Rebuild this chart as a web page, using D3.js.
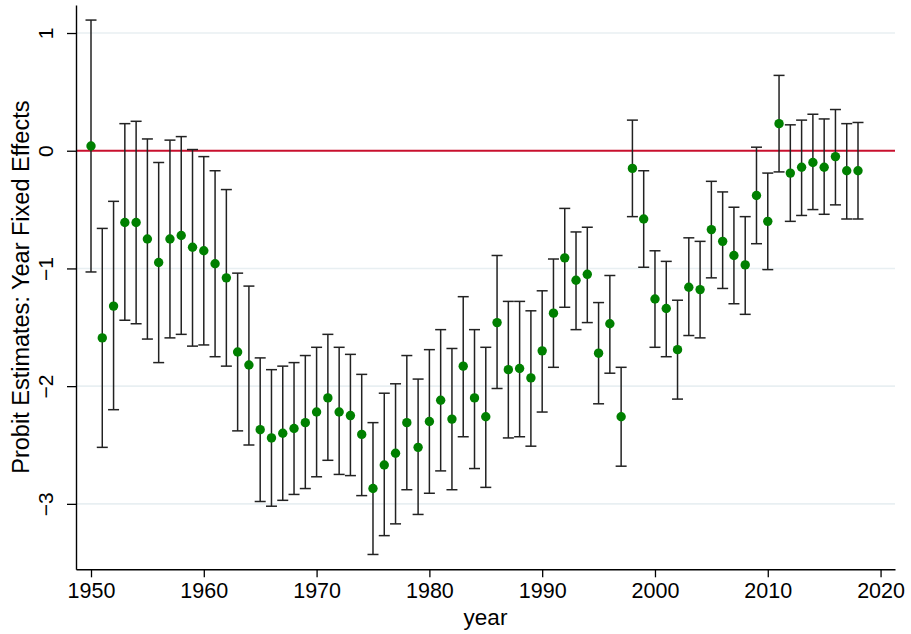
<!DOCTYPE html>
<html><head><meta charset="utf-8">
<script src="https://cdn.jsdelivr.net/npm/d3@7"></script>
<style>html,body{margin:0;padding:0;background:#fff}svg{display:block}text{font-family:"Liberation Sans",Arial,Helvetica,sans-serif;fill:#000}</style>
</head><body>
<svg id="chart" width="911" height="634"></svg>
<script>
const years = [1950,1951,1952,1953,1954,1955,1956,1957,1958,1959,1960,1961,1962,1963,1964,1965,1966,1967,1968,1969,1970,1971,1972,1973,1974,1975,1976,1977,1978,1979,1980,1981,1982,1983,1984,1985,1986,1987,1988,1989,1990,1991,1992,1993,1994,1995,1996,1997,1998,1999,2000,2001,2002,2003,2004,2005,2006,2007,2008,2009,2010,2011,2012,2013,2014,2015,2016,2017,2018];
const estimate = [0.04,-1.59,-1.32,-0.61,-0.61,-0.75,-0.95,-0.75,-0.72,-0.82,-0.85,-0.96,-1.08,-1.71,-1.82,-2.37,-2.44,-2.40,-2.36,-2.31,-2.22,-2.10,-2.22,-2.25,-2.41,-2.87,-2.67,-2.57,-2.31,-2.52,-2.30,-2.12,-2.28,-1.83,-2.10,-2.26,-1.46,-1.86,-1.85,-1.93,-1.70,-1.38,-0.91,-1.10,-1.05,-1.72,-1.47,-2.26,-0.15,-0.58,-1.26,-1.34,-1.69,-1.16,-1.18,-0.67,-0.77,-0.89,-0.97,-0.38,-0.60,0.23,-0.19,-0.14,-0.10,-0.14,-0.05,-0.17,-0.17];
const upper = [1.11,-0.66,-0.43,0.23,0.25,0.10,-0.10,0.09,0.12,0.01,-0.05,-0.17,-0.33,-1.04,-1.15,-1.76,-1.86,-1.83,-1.80,-1.74,-1.67,-1.56,-1.67,-1.73,-1.90,-2.31,-2.06,-1.98,-1.74,-1.94,-1.69,-1.52,-1.68,-1.24,-1.52,-1.67,-0.89,-1.28,-1.28,-1.36,-1.19,-0.92,-0.49,-0.69,-0.65,-1.29,-1.06,-1.84,0.26,-0.17,-0.85,-0.94,-1.27,-0.74,-0.77,-0.26,-0.35,-0.48,-0.56,0.03,-0.19,0.64,0.22,0.26,0.31,0.27,0.35,0.23,0.24];
const lower = [-1.03,-2.52,-2.20,-1.44,-1.47,-1.60,-1.80,-1.59,-1.56,-1.66,-1.65,-1.75,-1.83,-2.38,-2.50,-2.98,-3.02,-2.97,-2.92,-2.87,-2.77,-2.63,-2.75,-2.76,-2.93,-3.43,-3.27,-3.17,-2.88,-3.09,-2.91,-2.72,-2.88,-2.43,-2.70,-2.86,-2.02,-2.44,-2.43,-2.51,-2.22,-1.84,-1.33,-1.52,-1.46,-2.15,-1.89,-2.68,-0.56,-0.99,-1.67,-1.75,-2.11,-1.57,-1.59,-1.08,-1.17,-1.30,-1.39,-0.79,-1.01,-0.18,-0.60,-0.55,-0.50,-0.54,-0.46,-0.58,-0.58];
const xTicks = [1950,1960,1970,1980,1990,2000,2010,2020];
const yTicks = [-3,-2,-1,0,1];
const gridValues = [-3,-2,-1,1];
const xTitle = "year";
const yTitle = "Probit Estimates: Year Fixed Effects";

const data = years.map((yr,i)=>({year:yr, est:estimate[i], hi:upper[i], lo:lower[i]}));

const svg = d3.select("#chart");
const pLeft = 76, pRight = 895, pTop = 5, pBottom = 569.3;
const x = d3.scaleLinear().domain([1948.67, 2021.28]).range([pLeft, pRight]);
const y = d3.scaleLinear().domain([-3.556, 1.238]).range([pBottom, pTop]);

// gridlines
svg.append("g").selectAll("line").data(gridValues).join("line")
  .attr("x1", pLeft).attr("x2", pRight)
  .attr("y1", d=>y(d)).attr("y2", d=>y(d))
  .attr("stroke", "#e8eff2").attr("stroke-width", 1.6);

// zero reference line
svg.append("line").attr("x1", pLeft).attr("x2", pRight)
  .attr("y1", y(0)).attr("y2", y(0))
  .attr("stroke", "#c8102e").attr("stroke-width", 2);

// error bars
const cap = 5.5;
const eb = svg.append("g").attr("stroke", "#222").attr("stroke-width", 1.5).attr("fill", "none");
eb.selectAll("line.v").data(data).join("line").attr("class","v")
  .attr("x1", d=>x(d.year)).attr("x2", d=>x(d.year))
  .attr("y1", d=>y(d.hi)).attr("y2", d=>y(d.lo));
eb.selectAll("line.t").data(data).join("line").attr("class","t")
  .attr("x1", d=>x(d.year)-cap).attr("x2", d=>x(d.year)+cap)
  .attr("y1", d=>y(d.hi)).attr("y2", d=>y(d.hi));
eb.selectAll("line.b").data(data).join("line").attr("class","b")
  .attr("x1", d=>x(d.year)-cap).attr("x2", d=>x(d.year)+cap)
  .attr("y1", d=>y(d.lo)).attr("y2", d=>y(d.lo));

// points
svg.append("g").selectAll("circle").data(data).join("circle")
  .attr("cx", d=>x(d.year)).attr("cy", d=>y(d.est)).attr("r", 4.7)
  .attr("fill", "#008000");

// x axis
const xAxis = d3.axisBottom(x).tickValues(xTicks).tickFormat(d3.format("d")).tickSize(8).tickSizeOuter(0);
const gx = svg.append("g").attr("transform", `translate(0,${pBottom})`).call(xAxis);
gx.select(".domain").attr("stroke", "#000").attr("stroke-width", 1.4);
gx.selectAll(".tick line").attr("stroke", "#000").attr("stroke-width", 1.3);
gx.selectAll(".tick text").attr("font-size", 21.5).attr("font-family", "Liberation Sans, Arial, sans-serif").attr("dy", null).attr("y", 29);

// y axis
const yAxis = d3.axisLeft(y).tickValues(yTicks).tickFormat(d=> d<0 ? "\u2212"+Math.abs(d) : String(d)).tickSize(9).tickSizeOuter(0);
const gy = svg.append("g").attr("transform", `translate(${pLeft},0)`).call(yAxis);
gy.select(".domain").attr("stroke", "#000").attr("stroke-width", 1.4);
gy.selectAll(".tick line").attr("stroke", "#000").attr("stroke-width", 1.3);
gy.selectAll(".tick text").attr("font-size", 21).attr("font-family", "Liberation Sans, Arial, sans-serif")
  .attr("x", null).attr("dy", null).attr("text-anchor", "middle")
  .attr("transform", "translate(-23,0) rotate(-90)").attr("y", 0);

// titles
svg.append("text").attr("x", (pLeft+pRight)/2).attr("y", 625).attr("text-anchor", "middle")
  .attr("font-size", 22.5).text(xTitle);
svg.append("text").attr("transform", `translate(28.5,${(pTop+pBottom)/2}) rotate(-90)`).attr("text-anchor", "middle")
  .attr("font-size", 23.5).text(yTitle);
</script>
</body></html>
